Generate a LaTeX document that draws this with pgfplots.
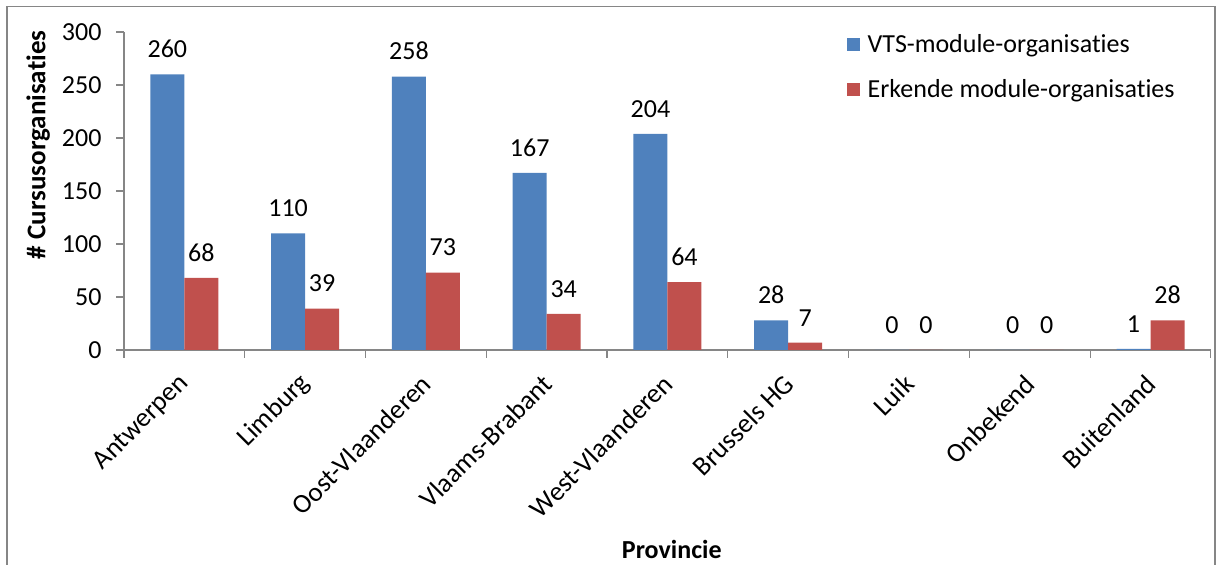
\documentclass[border=0pt]{standalone}
\usepackage{pgfplots}
\pgfplotsset{compat=1.18}
\usepackage{fontspec}
\setmainfont{Carlito}[Ligatures={NoCommon}]
\definecolor{vtsblue}{HTML}{4F81BD}
\definecolor{erkred}{HTML}{C0504D}
\definecolor{axgray}{HTML}{868686}
\newcommand{\cf}{\fontsize{26bp}{31bp}\selectfont}
\begin{document}
\begin{tikzpicture}[x=1bp,y=1bp]
\clip (0,0) rectangle (1219,565);
\draw[axgray, line width=1.5bp] (7,-20) rectangle (1215,558.5);
\begin{axis}[
  at={(124bp,215bp)}, anchor=south west,
  scale only axis, width=1087bp, height=318bp,
  ybar=0pt, bar width=34bp,
  xmin=-0.5, xmax=8.5, ymin=0, ymax=300,
  axis x line*=bottom, axis y line*=left,
  axis line style={axgray, line width=1.2bp},
  every tick/.style={axgray, line width=1.2bp},
  tick align=outside, major tick length=8bp,
  ytick={0,50,...,300},
  xtick={-0.5,0.5,...,8.5}, xticklabels={},
  extra x ticks={0,1,...,8},
  extra x tick labels={Antwerpen,Limburg,Oost-Vlaanderen,Vlaams-Brabant,West-Vlaanderen,Brussels HG,Luik,Onbekend,Buitenland},
  extra x tick style={major tick length=0pt, tick style={draw=none},
     xticklabel style={font=\fontsize{27bp}{32bp}\selectfont, xshift=3bp, yshift=-27bp, rotate=45, anchor=east}},
  /pgf/number format/assume math mode=true,
  yticklabel style={font=\cf, xshift=-11bp},
  ylabel={\bfseries\# Cursusorganisaties},
  ylabel style={font=\fontsize{27bp}{32bp}\selectfont, at={(axis description cs:-0.079,0.645)}, anchor=center, rotate=0},
  xlabel={\bfseries Provincie},
  xlabel style={font=\cf, at={(axis description cs:0.504,-0.626)}, anchor=center},
  nodes near coords,
  every node near coord/.append style={font=\cf, yshift=13bp, black},
  legend style={draw=none, fill=none, at={(axis description cs:0.662,1.004)}, anchor=north west,
     font=\cf, row sep=21bp, cells={anchor=west},
     /tikz/every odd column/.append style={column sep=6bp}},
  legend image code/.code={\fill[#1] (0bp,-6.5bp) rectangle (13bp,6.5bp);},
]
\addplot[fill=vtsblue, draw=none] coordinates {(0,260) (1,110) (2,258) (3,167) (4,204) (5,28) (6,0) (7,0) (8,1)};
\addplot[fill=erkred, draw=none] coordinates {(0,68) (1,39) (2,73) (3,34) (4,64) (5,7) (6,0) (7,0) (8,28)};
\legend{VTS-module-organisaties, Erkende module-organisaties}
\end{axis}
\end{tikzpicture}
\end{document}
